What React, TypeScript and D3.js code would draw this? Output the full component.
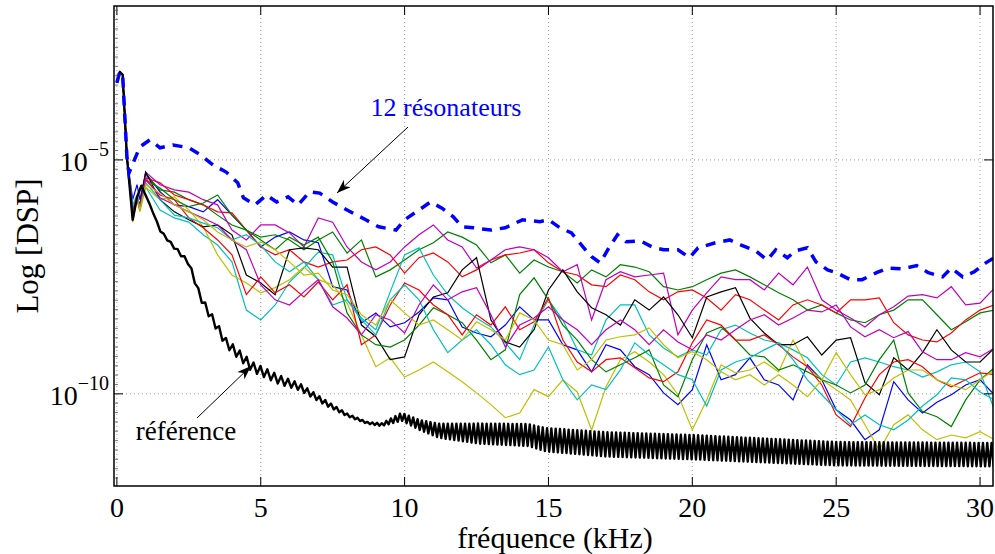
import React from 'react';
import * as d3 from 'd3';

// ---------- data (log10 of DSP) ----------
const startFreq = [0, 0.1, 0.2, 0.35];
const startLog = [-3.35, -3.12, -3.18, -4.94];

const lineFreq = [0.55, 0.7, 0.8, 1, 1.5, 2, 2.5, 3, 3.5, 4, 4.5, 5, 5.5, 6, 6.5, 7, 7.5, 8, 8.5, 9, 9.5, 10, 10.5, 11, 11.5, 12, 12.5, 13, 13.5, 14, 14.5, 15, 15.5, 16, 16.5, 17, 17.5, 18, 18.5, 19, 19.5, 20, 20.5, 21, 21.5, 22, 22.5, 23, 23.5, 24, 24.5, 25, 25.5, 26, 26.5, 27, 27.5, 28, 28.5, 29, 29.5, 30, 30.5];

const blue1 = [-5.85, -5.53, -5.85, -5.28, -5.68, -5.96, -6.00, -6.11, -5.85, -6.18, -6.50, -6.86, -6.65, -6.54, -6.71, -6.77, -7.71, -7.78, -8.48, -8.27, -8.57, -8.48, -8.25, -7.95, -7.99, -8.57, -8.70, -8.78, -8.53, -8.14, -8.42, -8.42, -8.95, -9.06, -9.53, -8.95, -9.06, -9.42, -9.59, -9.98, -10.23, -9.91, -8.95, -9.70, -9.59, -9.23, -9.70, -9.81, -10.13, -9.38, -9.70, -10.34, -10.56, -10.98, -10.77, -9.74, -10.13, -10.41, -10.18, -10.02, -9.81, -9.70, -10.02];
const green1 = [-6.18, -5.75, -6.03, -5.32, -5.64, -5.69, -5.85, -5.96, -6.18, -6.39, -6.50, -6.65, -6.60, -6.71, -6.92, -6.71, -6.54, -6.99, -6.71, -7.50, -7.35, -7.14, -6.92, -6.77, -6.54, -6.65, -6.82, -7.20, -7.03, -7.42, -7.14, -7.29, -7.39, -7.63, -7.35, -7.50, -7.24, -7.29, -7.39, -7.71, -7.78, -7.71, -7.56, -7.42, -7.35, -7.50, -7.67, -7.84, -7.99, -8.21, -8.10, -8.27, -8.42, -8.48, -8.31, -8.21, -7.99, -7.99, -8.31, -8.63, -8.46, -8.27, -8.21];
const red1 = [-6.24, -5.85, -5.96, -5.38, -5.49, -5.75, -5.85, -5.96, -6.11, -6.13, -6.50, -6.86, -7.03, -6.92, -7.18, -7.29, -7.18, -7.14, -6.92, -6.86, -7.03, -7.42, -7.09, -6.99, -7.18, -7.50, -7.35, -7.14, -7.03, -6.99, -6.92, -7.20, -7.39, -7.46, -7.67, -7.71, -7.46, -7.56, -7.82, -7.99, -7.82, -7.78, -7.95, -8.21, -7.88, -7.99, -8.21, -8.42, -8.10, -7.99, -8.10, -8.27, -7.99, -7.99, -7.95, -8.48, -8.74, -8.85, -8.89, -8.70, -8.42, -8.21, -8.10];
const cyan1 = [-5.96, -5.75, -5.96, -5.58, -6.07, -6.24, -6.33, -6.60, -6.82, -7.18, -8.21, -8.42, -8.10, -7.61, -7.31, -6.97, -7.03, -7.99, -8.38, -8.63, -7.82, -7.03, -6.88, -7.46, -7.88, -8.16, -8.38, -8.57, -8.91, -9.27, -8.53, -7.99, -8.42, -9.06, -9.17, -8.42, -8.10, -8.10, -8.74, -9.02, -9.21, -9.06, -9.17, -8.63, -8.53, -8.70, -8.85, -8.91, -9.06, -9.23, -9.59, -9.81, -9.32, -9.23, -9.32, -9.42, -9.49, -9.64, -9.53, -9.38, -9.32, -9.53, -10.34];
const magenta1 = [-6.11, -5.81, -5.96, -5.26, -5.53, -5.64, -5.69, -5.85, -5.96, -6.50, -6.71, -6.39, -6.39, -6.56, -6.86, -6.24, -6.33, -6.86, -7.18, -7.35, -7.18, -6.86, -6.60, -6.39, -6.71, -6.86, -7.31, -7.14, -6.92, -6.86, -6.92, -7.09, -7.39, -7.24, -8.42, -7.56, -7.39, -7.50, -7.46, -7.42, -8.74, -8.21, -7.84, -7.50, -7.56, -7.56, -7.78, -7.42, -7.67, -7.29, -7.99, -8.21, -8.38, -8.57, -8.31, -8.14, -7.91, -7.88, -7.95, -7.71, -8.10, -8.06, -7.74];
const yellow1 = [-6.33, -5.85, -6.11, -5.58, -5.85, -5.79, -6.07, -6.43, -7.03, -7.46, -7.63, -7.84, -7.73, -7.56, -7.29, -7.56, -7.67, -8.06, -8.74, -9.42, -9.23, -9.64, -9.49, -9.32, -9.53, -9.74, -9.98, -10.23, -10.51, -10.41, -9.91, -10.06, -9.70, -9.96, -10.77, -9.85, -9.27, -9.10, -9.32, -9.59, -10.02, -10.77, -10.13, -9.38, -9.55, -9.49, -9.32, -9.53, -8.85, -9.44, -9.70, -9.91, -10.13, -10.66, -11.20, -10.66, -10.45, -10.77, -10.98, -10.88, -10.94, -10.81, -10.98];
const black1 = [-6.07, -5.85, -5.96, -5.26, -5.85, -6.11, -6.28, -6.43, -6.39, -6.60, -7.46, -7.63, -7.88, -6.92, -6.88, -6.92, -7.29, -7.29, -8.53, -8.78, -9.27, -9.21, -8.31, -7.93, -7.84, -7.35, -7.09, -8.42, -8.89, -9.00, -8.63, -7.78, -7.35, -7.82, -8.16, -8.31, -8.53, -7.99, -8.21, -7.93, -8.31, -8.80, -7.93, -7.82, -7.73, -8.38, -8.70, -8.95, -8.95, -8.78, -9.17, -8.85, -8.80, -9.76, -10.02, -9.23, -9.49, -9.12, -8.63, -9.06, -9.32, -9.32, -9.02];
const green2 = [-6.11, -5.79, -6.00, -5.43, -5.60, -5.85, -6.00, -5.92, -5.75, -6.18, -6.50, -6.71, -6.92, -6.65, -6.82, -6.65, -7.18, -8.27, -8.74, -8.95, -9.00, -8.85, -8.53, -8.16, -8.31, -8.48, -8.85, -9.27, -9.06, -7.88, -7.52, -7.99, -8.53, -8.85, -9.27, -9.53, -9.38, -9.23, -9.06, -9.81, -10.06, -9.27, -8.70, -8.57, -8.85, -9.17, -9.21, -9.49, -9.38, -9.53, -9.70, -9.81, -9.98, -9.81, -9.27, -8.85, -9.98, -10.38, -10.49, -10.70, -10.13, -9.70, -9.44];
const red2 = [-6.18, -5.85, -6.07, -5.43, -5.75, -5.85, -6.24, -6.45, -6.71, -7.03, -7.88, -7.50, -7.84, -7.67, -7.93, -7.61, -7.99, -7.67, -8.95, -8.74, -8.10, -7.63, -7.78, -8.10, -8.31, -8.74, -8.31, -8.53, -8.14, -8.63, -8.46, -7.95, -8.85, -9.32, -9.53, -9.27, -9.23, -9.44, -9.66, -9.74, -9.53, -8.91, -8.42, -8.53, -8.85, -8.85, -8.74, -8.95, -9.21, -9.42, -9.81, -10.45, -10.70, -10.09, -9.59, -9.32, -9.27, -9.42, -9.70, -9.85, -9.70, -9.55, -9.59];
const cyan2 = [-6.03, -5.79, -6.07, -5.49, -5.85, -6.18, -6.24, -6.35, -6.45, -6.71, -6.60, -6.82, -7.18, -7.39, -7.18, -7.56, -8.10, -7.99, -8.42, -8.74, -7.99, -7.67, -7.99, -8.63, -9.12, -8.85, -8.63, -8.95, -9.38, -9.59, -9.49, -9.00, -9.70, -10.13, -9.81, -9.91, -9.49, -8.91, -9.17, -9.38, -9.59, -9.70, -10.26, -9.49, -9.32, -9.23, -9.06, -8.91, -9.27, -9.70, -10.02, -10.34, -10.66, -10.45, -10.66, -10.77, -10.56, -10.26, -10.02, -9.66, -9.70, -9.96, -10.13];
const magenta2 = [-6.07, -5.81, -6.03, -5.38, -5.81, -5.96, -6.11, -6.24, -6.39, -6.71, -6.92, -7.67, -7.99, -8.10, -7.82, -7.56, -8.14, -8.38, -8.74, -8.31, -8.42, -8.70, -8.10, -7.67, -7.99, -7.82, -7.73, -8.31, -9.00, -8.53, -8.38, -8.14, -8.42, -8.63, -8.95, -8.63, -8.42, -8.63, -8.95, -8.63, -8.89, -9.06, -8.74, -8.85, -8.63, -8.42, -8.31, -8.53, -8.38, -8.21, -8.25, -8.10, -8.57, -8.78, -8.63, -8.80, -8.67, -9.10, -9.27, -9.27, -9.12, -9.21, -9.02];
const yellow2 = [-6.24, -5.75, -6.07, -5.53, -5.71, -5.96, -6.11, -6.28, -6.54, -6.71, -6.86, -6.75, -6.92, -7.18, -7.46, -7.42, -7.78, -7.88, -8.31, -8.53, -7.99, -8.27, -8.53, -8.42, -8.63, -8.85, -8.46, -8.63, -8.85, -8.27, -8.42, -8.85, -8.95, -9.49, -9.27, -8.85, -8.78, -8.74, -8.59, -8.95, -9.23, -9.10, -9.27, -9.53, -9.70, -9.59, -9.81, -9.59, -9.81, -10.06, -9.70, -9.12, -9.59, -10.02, -9.91, -9.66, -9.49, -9.49, -9.70, -9.81, -9.91, -9.70, -9.49];

const seriesValues = [blue1, green1, red1, cyan1, magenta1, yellow1, black1, green2, red2, cyan2, magenta2, yellow2];
const seriesColors = ['#0000FF', '#008000', '#FF0000', '#00BFBF', '#BF00BF', '#BFBF00', '#000000', '#008000', '#FF0000', '#00BFBF', '#BF00BF', '#BFBF00'];

// 12 résonateurs (blue dashed)
const resFreq = [0, 0.1, 0.2, 0.35, 0.42, 0.8, 1.15, 1.5, 1.95, 2.5, 2.9, 3.35, 3.8, 4.2, 4.4, 4.8, 5.2, 5.55, 5.95, 6.3, 6.7, 7.05, 7.5, 8.0, 8.65, 9.1, 9.7, 10.0, 10.5, 10.9, 11.3, 11.7, 12.0, 12.4, 13.0, 13.5, 14.1, 14.7, 15.0, 15.4, 15.8, 16.2, 16.5, 16.8, 17.1, 17.4, 17.7, 18.2, 18.6, 19.0, 19.5, 19.9, 20.2, 20.8, 21.3, 21.7, 22.2, 22.6, 22.9, 23.3, 23.6, 24.0, 24.3, 24.7, 25.0, 25.5, 25.9, 26.4, 26.8, 27.3, 27.8, 28.2, 28.7, 29.0, 29.4, 29.8, 30.2, 30.5];
const resLog = [-3.35, -3.12, -3.18, -4.94, -5.28, -4.72, -4.57, -4.74, -4.68, -4.74, -4.89, -5.11, -5.26, -5.49, -5.81, -5.96, -5.75, -5.90, -5.79, -5.96, -5.68, -5.71, -5.90, -6.07, -6.28, -6.43, -6.50, -6.28, -6.07, -5.90, -6.03, -6.22, -6.43, -6.45, -6.50, -6.45, -6.28, -6.32, -6.28, -6.45, -6.56, -6.86, -7.07, -7.20, -6.88, -6.60, -6.75, -6.73, -6.86, -6.92, -6.92, -7.09, -6.88, -6.77, -6.71, -6.82, -6.94, -7.14, -6.92, -7.09, -6.94, -6.88, -7.18, -7.35, -7.41, -7.56, -7.56, -7.41, -7.31, -7.33, -7.26, -7.41, -7.50, -7.31, -7.50, -7.39, -7.20, -7.09];

// référence (thick black): mean level, ripple peak-to-peak (decades), ripple period (kHz)
const refFreq = [0, 0.1, 0.2, 0.35, 0.55, 0.7, 0.85, 1.15, 1.5, 1.85, 2.5, 2.9, 3.2, 3.8, 4.7, 5.65, 6.35, 7.25, 8.0, 8.7, 9.2, 9.9, 10.5, 11.2, 12.6, 14.3, 14.9, 17, 20, 25, 30.5];
const refMid = [-3.35, -3.12, -3.18, -4.94, -6.28, -5.80, -5.55, -5.96, -6.50, -6.77, -7.20, -7.93, -8.27, -8.91, -9.42, -9.70, -9.85, -10.19, -10.45, -10.62, -10.66, -10.49, -10.66, -10.79, -10.85, -10.88, -10.98, -11.08, -11.14, -11.28, -11.30];
const refRipple = [0, 0, 0, 0, 0, 0, 0, 0, 0.04, 0.06, 0.09, 0.13, 0.17, 0.19, 0.21, 0.19, 0.15, 0.11, 0.06, 0.04, 0.06, 0.17, 0.21, 0.30, 0.43, 0.47, 0.50, 0.52, 0.52, 0.50, 0.50];
const refPeriod = [0.24, 0.24, 0.24, 0.24, 0.24, 0.24, 0.24, 0.24, 0.24, 0.24, 0.24, 0.24, 0.24, 0.24, 0.24, 0.24, 0.22, 0.2, 0.18, 0.17, 0.16, 0.155, 0.15, 0.15, 0.15, 0.15, 0.15, 0.15, 0.15, 0.15, 0.15];

const xTicks = [0, 5, 10, 15, 20, 25, 30];
const yTickExp = [-5, -10];

// ---------- layout ----------
const W = 995, H = 554;
const L = 114, R = 993, T = 6, B = 486;
const FONT = '"Liberation Serif", "Times New Roman", serif';

export default function App() {
  const x = d3.scaleLinear().domain([-0.1, 30.45]).range([L, R]);
  const y = d3.scaleLog().domain([Math.pow(10, -11.97), Math.pow(10, -1.71)]).range([B, T]);
  const line = d3.line<[number, number]>().x(d => x(d[0])).y(d => y(Math.pow(10, d[1])));

  const seriesPaths = seriesValues.map(vals => {
    const pts: [number, number][] = startFreq.map((f, i) => [f, startLog[i]] as [number, number]);
    const n = Math.min(vals.length, lineFreq.length);
    for (let i = 0; i < n; i++) pts.push([lineFreq[i], vals[i]]);
    return line(pts) || '';
  });

  const resPts: [number, number][] = resFreq.map((f, i) => [f, resLog[i]] as [number, number]);

  // reference: knots, then ripple around the mean level
  const midS = d3.scaleLinear().domain(refFreq).range(refMid);
  const ripS = d3.scaleLinear().domain(refFreq).range(refRipple);
  const perS = d3.scaleLinear().domain(refFreq).range(refPeriod);
  const refPts: [number, number][] = [];
  for (let i = 0; i < refFreq.length && refFreq[i] <= 1.15; i++) refPts.push([refFreq[i], refMid[i]]);
  let f = 1.15, s = 1;
  while (f <= 30.6) {
    refPts.push([f, midS(f) + s * ripS(f) / 2]);
    f += perS(f) / 2;
    s = -s;
  }

  // minor ticks along the left axis, every 0.2 decade
  const minorLog = d3.range(-11.8, -1.75, 0.2).filter(v => Math.abs(v + 5) > 0.05 && Math.abs(v + 10) > 0.05);

  return (
    <svg width={W} height={H} style={{ position: 'absolute', left: 0, top: 0, background: '#fff' }} fontFamily={FONT}>
      <defs>
        <clipPath id="plotclip"><rect x={L} y={T} width={R - L} height={B - T} /></clipPath>
        <marker id="ah" viewBox="0 0 14 10" refX="14" refY="5" markerWidth="14" markerHeight="10" orient="auto" markerUnits="userSpaceOnUse">
          <path d="M0,0 L14,5 L0,10 L4,5 Z" fill="#000" />
        </marker>
      </defs>
      <rect x={0} y={0} width={W} height={H} fill="#fff" />
      {/* grid */}
      <g stroke="#7f7f7f" strokeWidth={0.8} strokeDasharray="1 3">
        {xTicks.map(t => <line key={'gx' + t} x1={x(t)} x2={x(t)} y1={T} y2={B} />)}
        {yTickExp.map(e => <line key={'gy' + e} x1={L} x2={R} y1={y(Math.pow(10, e))} y2={y(Math.pow(10, e))} />)}
      </g>
      {/* data */}
      <g clipPath="url(#plotclip)" fill="none">
        {seriesPaths.map((d, i) => <path key={i} d={d} stroke={seriesColors[i]} strokeWidth={1.2} />)}
        <path d={line(refPts) || ''} stroke="#000" strokeWidth={2.4} strokeLinejoin="round" />
        <path d={line(resPts) || ''} stroke="#0000FF" strokeWidth={3.5} strokeDasharray="10 8" />
      </g>
      {/* axes box */}
      <rect x={L} y={T} width={R - L} height={B - T} fill="none" stroke="#000" strokeWidth={1.5} />
      {/* ticks */}
      <g stroke="#000" strokeWidth={1}>
        {xTicks.map(t => (
          <g key={'tx' + t}>
            <line x1={x(t)} x2={x(t)} y1={B} y2={B - 9} />
            <line x1={x(t)} x2={x(t)} y1={T} y2={T + 9} />
          </g>
        ))}
        {yTickExp.map(e => (
          <g key={'ty' + e}>
            <line x1={L} x2={L + 9} y1={y(Math.pow(10, e))} y2={y(Math.pow(10, e))} />
            <line x1={R} x2={R - 9} y1={y(Math.pow(10, e))} y2={y(Math.pow(10, e))} />
          </g>
        ))}
      </g>
      <g stroke="#555" strokeWidth={0.8}>
        {minorLog.map(v => (
          <line key={'my' + v.toFixed(1)} x1={L + 1} x2={L + 4} y1={y(Math.pow(10, v))} y2={y(Math.pow(10, v))} />
        ))}
      </g>
      {/* tick labels */}
      <g fontSize={28} fill="#000">
        {xTicks.map(t => (
          <text key={'lx' + t} x={x(t)} y={517} textAnchor="middle">{t}</text>
        ))}
        {yTickExp.map(e => (
          <text key={'ly' + e} x={109} y={y(Math.pow(10, e)) + 11} textAnchor="end">
            <tspan>10</tspan>
            <tspan dy={-15} fontSize={20}>{'\u2212' + Math.abs(e)}</tspan>
          </text>
        ))}
      </g>
      {/* axis labels */}
      <text x={555} y={548} textAnchor="middle" fontSize={30}>fréquence (kHz)</text>
      <text transform="translate(38,246) rotate(-90)" textAnchor="middle" fontSize={31}>Log [DSP]</text>
      {/* annotations */}
      <text x={446} y={116} textAnchor="middle" fontSize={26} fill="#0000FF">12 résonateurs</text>
      <line x1={408} y1={127} x2={337} y2={193} stroke="#000" strokeWidth={1} markerEnd="url(#ah)" />
      <text x={186} y={440} textAnchor="middle" fontSize={27} fill="#000">référence</text>
      <line x1={197} y1={418} x2={251} y2={366} stroke="#000" strokeWidth={1} markerEnd="url(#ah)" />
    </svg>
  );
}
